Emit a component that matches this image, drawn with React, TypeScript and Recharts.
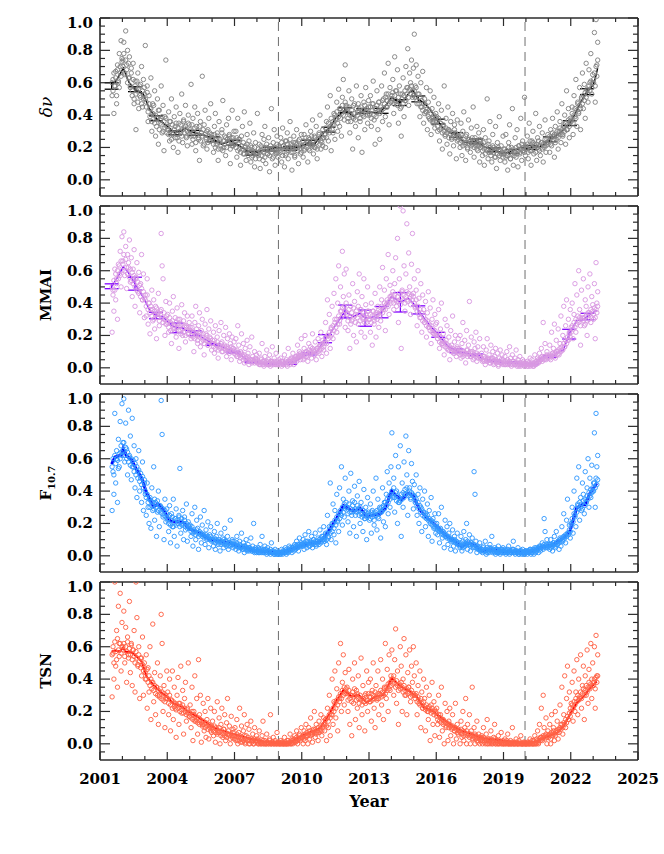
import React from 'react';
import { ComposedChart, Scatter, Line, XAxis, YAxis, ReferenceLine, ErrorBar } from 'recharts';

// x ticks (every year) and y ticks (every 0.05)
const yearTicks = [2001, 2002, 2003, 2004, 2005, 2006, 2007, 2008, 2009, 2010, 2011, 2012, 2013,
  2014, 2015, 2016, 2017, 2018, 2019, 2020, 2021, 2022, 2023, 2024, 2025];
const valueTicks = [-0.05, 0, 0.05, 0.1, 0.15, 0.2, 0.25, 0.3, 0.35, 0.4, 0.45, 0.5, 0.55, 0.6,
  0.65, 0.7, 0.75, 0.8, 0.85, 0.9, 0.95, 1.0];
const minima = [2008.96, 2019.96];

// scatter clouds: one row per calendar year (2001 ... 2023), samples spread over the year
const cloudFirstYear = 2001;
const cloudStart = 2001.52;
const cloudEnd = 2023.22;

const dnuCloud = [
  [0.52, 0.62, 0.41, 0.58, 0.67, 0.47, 0.71, 0.60, 0.78, 0.66, 0.86, 0.73],
  [0.74, 0.85, 0.66, 0.92, 0.71, 0.80, 0.63, 0.76, 0.58, 0.69, 0.52, 0.72, 0.47, 0.61, 0.31, 0.55, 0.66, 0.44, 0.58, 0.51, 0.70, 0.45, 0.62, 0.53],
  [0.83, 0.48, 0.58, 0.36, 0.52, 0.44, 0.63, 0.30, 0.47, 0.40, 0.55, 0.27, 0.38, 0.50, 0.22, 0.43, 0.35, 0.58, 0.29, 0.46, 0.18, 0.39, 0.74, 0.33],
  [0.31, 0.42, 0.24, 0.36, 0.50, 0.28, 0.20, 0.39, 0.33, 0.45, 0.26, 0.17, 0.35, 0.41, 0.29, 0.53, 0.23, 0.37, 0.32, 0.46, 0.27, 0.21, 0.40, 0.34],
  [0.30, 0.59, 0.22, 0.38, 0.27, 0.45, 0.18, 0.33, 0.41, 0.25, 0.12, 0.36, 0.29, 0.64, 0.21, 0.34, 0.43, 0.26, 0.19, 0.31, 0.38, 0.24, 0.47, 0.28],
  [0.25, 0.17, 0.33, 0.41, 0.22, 0.29, 0.12, 0.36, 0.24, 0.19, 0.31, 0.49, 0.20, 0.27, 0.15, 0.34, 0.23, 0.38, 0.28, 0.10, 0.26, 0.43, 0.21, 0.30],
  [0.22, 0.30, 0.14, 0.38, 0.25, 0.19, 0.09, 0.27, 0.33, 0.16, 0.42, 0.21, 0.12, 0.28, 0.18, 0.24, 0.35, 0.11, 0.20, 0.15, 0.29, 0.08, 0.23, 0.17],
  [0.41, 0.15, 0.22, 0.07, 0.18, 0.28, 0.12, 0.25, 0.33, 0.10, 0.20, 0.16, 0.26, 0.05, 0.19, 0.44, 0.13, 0.23, 0.31, 0.09, 0.17, 0.27, 0.14, 0.21],
  [0.18, 0.26, 0.11, 0.32, 0.21, 0.08, 0.15, 0.24, 0.29, 0.13, 0.19, 0.36, 0.22, 0.06, 0.17, 0.27, 0.14, 0.23, 0.31, 0.20, 0.10, 0.25, 0.16, 0.28],
  [0.21, 0.14, 0.28, 0.19, 0.34, 0.24, 0.11, 0.26, 0.18, 0.30, 0.22, 0.37, 0.16, 0.27, 0.20, 0.33, 0.13, 0.25, 0.29, 0.40, 0.19, 0.23, 0.31, 0.26],
  [0.28, 0.20, 0.36, 0.45, 0.24, 0.31, 0.52, 0.18, 0.34, 0.29, 0.41, 0.25, 0.38, 0.48, 0.30, 0.56, 0.33, 0.44, 0.27, 0.51, 0.62, 0.37, 0.71, 0.46],
  [0.45, 0.36, 0.55, 0.29, 0.41, 0.50, 0.19, 0.38, 0.47, 0.33, 0.58, 0.42, 0.26, 0.44, 0.36, 0.52, 0.17, 0.40, 0.48, 0.31, 0.57, 0.43, 0.35, 0.49],
  [0.40, 0.52, 0.33, 0.47, 0.61, 0.37, 0.22, 0.44, 0.55, 0.31, 0.48, 0.25, 0.42, 0.58, 0.36, 0.50, 0.66, 0.39, 0.53, 0.45, 0.72, 0.34, 0.57, 0.48],
  [0.52, 0.62, 0.41, 0.76, 0.55, 0.47, 0.68, 0.35, 0.58, 0.44, 0.27, 0.53, 0.63, 0.39, 0.49, 0.70, 0.57, 0.81, 0.46, 0.66, 0.60, 0.74, 0.51, 0.69],
  [0.90, 0.58, 0.71, 0.47, 0.64, 0.53, 0.39, 0.60, 0.45, 0.67, 0.35, 0.50, 0.42, 0.57, 0.31, 0.48, 0.38, 0.55, 0.28, 0.44, 0.36, 0.51, 0.32, 0.41],
  [0.39, 0.30, 0.47, 0.24, 0.35, 0.43, 0.19, 0.33, 0.58, 0.28, 0.38, 0.22, 0.45, 0.31, 0.16, 0.36, 0.26, 0.41, 0.21, 0.34, 0.29, 0.13, 0.37, 0.25],
  [0.27, 0.20, 0.35, 0.15, 0.30, 0.42, 0.23, 0.12, 0.28, 0.19, 0.37, 0.25, 0.17, 0.32, 0.22, 0.45, 0.14, 0.26, 0.21, 0.33, 0.18, 0.29, 0.11, 0.24],
  [0.22, 0.15, 0.31, 0.09, 0.26, 0.19, 0.50, 0.13, 0.24, 0.36, 0.17, 0.11, 0.28, 0.20, 0.14, 0.33, 0.07, 0.23, 0.18, 0.39, 0.12, 0.21, 0.16, 0.27],
  [0.19, 0.11, 0.28, 0.15, 0.06, 0.23, 0.34, 0.13, 0.20, 0.44, 0.09, 0.17, 0.26, 0.14, 0.31, 0.08, 0.21, 0.16, 0.38, 0.12, 0.24, 0.18, 0.51, 0.15],
  [0.20, 0.27, 0.13, 0.35, 0.18, 0.09, 0.24, 0.30, 0.16, 0.22, 0.41, 0.12, 0.26, 0.19, 0.33, 0.15, 0.23, 0.29, 0.11, 0.21, 0.37, 0.17, 0.25, 0.28],
  [0.24, 0.17, 0.31, 0.21, 0.38, 0.27, 0.14, 0.33, 0.25, 0.42, 0.19, 0.30, 0.36, 0.23, 0.47, 0.28, 0.34, 0.40, 0.22, 0.55, 0.31, 0.44, 0.26, 0.38],
  [0.36, 0.45, 0.28, 0.52, 0.39, 0.62, 0.33, 0.48, 0.42, 0.57, 0.31, 0.51, 0.66, 0.44, 0.59, 0.38, 0.72, 0.55, 0.48, 0.68, 0.60, 0.78, 0.53, 0.65],
  [0.62, 0.91, 0.48, 0.99, 0.71, 0.85],
];
// the densest part of each cloud, close to the running mean
const dnuCore = [
  [0.60, 0.55, 0.66, 0.58, 0.63, 0.52, 0.68, 0.61, 0.57, 0.70, 0.64, 0.75],
  [0.70, 0.78, 0.65, 0.74, 0.68, 0.60, 0.72, 0.63, 0.57, 0.66, 0.55, 0.62, 0.50, 0.58, 0.53, 0.61, 0.48, 0.56, 0.52, 0.59, 0.47, 0.55, 0.50, 0.57],
  [0.50, 0.45, 0.54, 0.42, 0.47, 0.39, 0.44, 0.36, 0.41, 0.46, 0.35, 0.40, 0.33, 0.38, 0.43, 0.31, 0.37, 0.34, 0.39, 0.30, 0.36, 0.32, 0.38, 0.29],
  [0.33, 0.28, 0.36, 0.30, 0.25, 0.34, 0.29, 0.31, 0.26, 0.35, 0.28, 0.32, 0.24, 0.30, 0.34, 0.27, 0.31, 0.36, 0.29, 0.33, 0.26, 0.30, 0.35, 0.28],
  [0.31, 0.27, 0.34, 0.25, 0.29, 0.32, 0.23, 0.28, 0.30, 0.26, 0.33, 0.24, 0.29, 0.27, 0.31, 0.22, 0.28, 0.25, 0.30, 0.23, 0.27, 0.29, 0.24, 0.26],
  [0.26, 0.22, 0.28, 0.20, 0.24, 0.27, 0.19, 0.23, 0.25, 0.21, 0.29, 0.18, 0.24, 0.22, 0.26, 0.20, 0.25, 0.23, 0.27, 0.19, 0.24, 0.21, 0.26, 0.22],
  [0.24, 0.20, 0.26, 0.18, 0.22, 0.25, 0.17, 0.21, 0.19, 0.23, 0.16, 0.20, 0.18, 0.22, 0.15, 0.19, 0.17, 0.21, 0.14, 0.18, 0.16, 0.20, 0.13, 0.17],
  [0.16, 0.19, 0.13, 0.18, 0.21, 0.15, 0.17, 0.20, 0.14, 0.19, 0.22, 0.16, 0.18, 0.15, 0.21, 0.17, 0.19, 0.14, 0.20, 0.18, 0.16, 0.22, 0.17, 0.19],
  [0.20, 0.17, 0.23, 0.15, 0.21, 0.19, 0.24, 0.16, 0.22, 0.18, 0.20, 0.25, 0.17, 0.21, 0.19, 0.23, 0.15, 0.20, 0.22, 0.18, 0.24, 0.19, 0.21, 0.17],
  [0.21, 0.24, 0.18, 0.22, 0.26, 0.20, 0.23, 0.19, 0.25, 0.22, 0.27, 0.21, 0.24, 0.20, 0.26, 0.23, 0.19, 0.25, 0.28, 0.22, 0.24, 0.27, 0.21, 0.26],
  [0.28, 0.32, 0.26, 0.30, 0.35, 0.29, 0.33, 0.38, 0.31, 0.36, 0.34, 0.40, 0.37, 0.42, 0.35, 0.39, 0.44, 0.38, 0.41, 0.46, 0.40, 0.43, 0.48, 0.42],
  [0.42, 0.38, 0.45, 0.40, 0.36, 0.43, 0.39, 0.46, 0.41, 0.37, 0.44, 0.40, 0.47, 0.42, 0.38, 0.45, 0.41, 0.43, 0.39, 0.46, 0.42, 0.44, 0.40, 0.45],
  [0.41, 0.45, 0.38, 0.43, 0.47, 0.40, 0.44, 0.39, 0.46, 0.42, 0.48, 0.41, 0.45, 0.43, 0.49, 0.44, 0.47, 0.51, 0.45, 0.49, 0.53, 0.47, 0.50, 0.48],
  [0.50, 0.54, 0.47, 0.52, 0.49, 0.55, 0.46, 0.51, 0.48, 0.53, 0.45, 0.50, 0.47, 0.52, 0.55, 0.49, 0.53, 0.57, 0.51, 0.56, 0.53, 0.58, 0.55, 0.52],
  [0.55, 0.51, 0.57, 0.49, 0.53, 0.47, 0.51, 0.45, 0.49, 0.43, 0.47, 0.41, 0.46, 0.42, 0.44, 0.39, 0.43, 0.37, 0.41, 0.38, 0.35, 0.40, 0.36, 0.38],
  [0.36, 0.33, 0.38, 0.31, 0.35, 0.32, 0.29, 0.34, 0.30, 0.27, 0.32, 0.29, 0.31, 0.26, 0.30, 0.28, 0.25, 0.29, 0.27, 0.31, 0.26, 0.28, 0.24, 0.27],
  [0.26, 0.23, 0.28, 0.24, 0.21, 0.25, 0.22, 0.27, 0.23, 0.20, 0.25, 0.22, 0.24, 0.21, 0.26, 0.23, 0.20, 0.24, 0.22, 0.19, 0.23, 0.21, 0.25, 0.20],
  [0.21, 0.18, 0.23, 0.19, 0.16, 0.21, 0.18, 0.22, 0.17, 0.20, 0.15, 0.19, 0.21, 0.17, 0.18, 0.14, 0.19, 0.16, 0.20, 0.15, 0.18, 0.16, 0.17, 0.14],
  [0.16, 0.19, 0.14, 0.18, 0.15, 0.20, 0.17, 0.13, 0.18, 0.16, 0.19, 0.15, 0.17, 0.20, 0.16, 0.18, 0.21, 0.17, 0.19, 0.22, 0.18, 0.20, 0.17, 0.21],
  [0.19, 0.22, 0.17, 0.21, 0.24, 0.18, 0.20, 0.23, 0.19, 0.21, 0.17, 0.22, 0.20, 0.24, 0.18, 0.21, 0.23, 0.19, 0.22, 0.20, 0.25, 0.21, 0.23, 0.22],
  [0.24, 0.27, 0.22, 0.26, 0.29, 0.25, 0.28, 0.23, 0.27, 0.30, 0.26, 0.29, 0.32, 0.28, 0.31, 0.27, 0.33, 0.30, 0.35, 0.31, 0.34, 0.37, 0.33, 0.36],
  [0.37, 0.41, 0.35, 0.40, 0.44, 0.38, 0.43, 0.47, 0.41, 0.46, 0.44, 0.50, 0.47, 0.52, 0.49, 0.54, 0.51, 0.56, 0.53, 0.58, 0.55, 0.61, 0.57, 0.60],
  [0.60, 0.66, 0.58, 0.70, 0.64, 0.74],
];

const mmaiCloud = [
  [0.22, 0.48, 0.35, 0.61, 0.42, 0.55, 0.30, 0.64, 0.58, 0.72, 0.50, 0.81],
  [0.66, 0.84, 0.57, 0.75, 0.49, 0.70, 0.62, 0.79, 0.53, 0.68, 0.44, 0.61, 0.73, 0.38, 0.56, 0.65, 0.47, 0.59, 0.34, 0.52, 0.70, 0.42, 0.58, 0.31],
  [0.45, 0.32, 0.55, 0.27, 0.40, 0.21, 0.36, 0.48, 0.29, 0.42, 0.24, 0.38, 0.18, 0.33, 0.46, 0.26, 0.35, 0.83, 0.63, 0.55, 0.30, 0.20, 0.41, 0.27],
  [0.33, 0.22, 0.40, 0.28, 0.15, 0.35, 0.44, 0.25, 0.31, 0.19, 0.37, 0.27, 0.12, 0.30, 0.23, 0.39, 0.20, 0.29, 0.34, 0.16, 0.26, 0.32, 0.21, 0.28],
  [0.25, 0.18, 0.32, 0.22, 0.10, 0.28, 0.38, 0.20, 0.15, 0.26, 0.34, 0.13, 0.23, 0.30, 0.17, 0.08, 0.27, 0.21, 0.36, 0.14, 0.24, 0.19, 0.29, 0.11],
  [0.17, 0.22, 0.09, 0.26, 0.14, 0.19, 0.06, 0.23, 0.12, 0.28, 0.16, 0.10, 0.20, 0.13, 0.25, 0.07, 0.18, 0.11, 0.21, 0.15, 0.05, 0.19, 0.12, 0.16],
  [0.11, 0.18, 0.07, 0.26, 0.14, 0.04, 0.10, 0.21, 0.08, 0.15, 0.03, 0.12, 0.06, 0.17, 0.09, 0.02, 0.13, 0.05, 0.19, 0.07, 0.04, 0.10, 0.06, 0.08],
  [0.05, 0.03, 0.09, 0.02, 0.06, 0.15, 0.04, 0.01, 0.07, 0.03, 0.11, 0.02, 0.05, 0.08, 0.01, 0.04, 0.13, 0.03, 0.06, 0.02, 0.09, 0.04, 0.02, 0.05],
  [0.03, 0.06, 0.01, 0.04, 0.02, 0.08, 0.03, 0.05, 0.01, 0.12, 0.04, 0.02, 0.06, 0.03, 0.09, 0.02, 0.05, 0.07, 0.04, 0.14, 0.06, 0.10, 0.05, 0.18],
  [0.08, 0.05, 0.12, 0.20, 0.07, 0.10, 0.04, 0.15, 0.09, 0.13, 0.06, 0.21, 0.11, 0.08, 0.16, 0.05, 0.12, 0.18, 0.09, 0.14, 0.22, 0.07, 0.17, 0.11],
  [0.15, 0.28, 0.09, 0.42, 0.20, 0.33, 0.12, 0.25, 0.38, 0.18, 0.46, 0.30, 0.55, 0.22, 0.40, 0.63, 0.27, 0.50, 0.35, 0.72, 0.44, 0.58, 0.25, 0.61],
  [0.34, 0.23, 0.45, 0.12, 0.38, 0.29, 0.52, 0.20, 0.41, 0.33, 0.16, 0.47, 0.27, 0.58, 0.36, 0.22, 0.44, 0.31, 0.55, 0.19, 0.39, 0.28, 0.50, 0.35],
  [0.30, 0.22, 0.40, 0.14, 0.35, 0.27, 0.46, 0.19, 0.33, 0.38, 0.25, 0.50, 0.29, 0.42, 0.62, 0.36, 0.48, 0.23, 0.55, 0.40, 0.70, 0.33, 0.51, 0.44],
  [0.45, 0.60, 0.36, 0.52, 0.68, 0.41, 0.80, 0.28, 0.55, 1.00, 0.12, 0.47, 0.97, 0.63, 0.35, 0.58, 0.89, 0.42, 0.71, 0.50, 0.33, 0.64, 0.83, 0.46],
  [0.55, 0.38, 0.48, 0.26, 0.60, 0.43, 0.31, 0.52, 0.22, 0.45, 0.36, 0.28, 0.41, 0.19, 0.34, 0.47, 0.25, 0.37, 0.15, 0.30, 0.42, 0.21, 0.33, 0.27],
  [0.28, 0.18, 0.36, 0.12, 0.24, 0.40, 0.15, 0.21, 0.08, 0.30, 0.17, 0.26, 0.11, 0.19, 0.05, 0.23, 0.14, 0.32, 0.09, 0.16, 0.20, 0.07, 0.13, 0.18],
  [0.12, 0.20, 0.06, 0.15, 0.28, 0.09, 0.17, 0.03, 0.23, 0.11, 0.14, 0.41, 0.07, 0.19, 0.10, 0.05, 0.16, 0.12, 0.22, 0.04, 0.13, 0.08, 0.18, 0.06],
  [0.09, 0.04, 0.13, 0.07, 0.02, 0.11, 0.18, 0.05, 0.08, 0.03, 0.14, 0.06, 0.10, 0.02, 0.07, 0.12, 0.04, 0.09, 0.01, 0.06, 0.11, 0.03, 0.08, 0.05],
  [0.04, 0.07, 0.02, 0.10, 0.05, 0.03, 0.13, 0.06, 0.01, 0.08, 0.04, 0.02, 0.06, 0.11, 0.03, 0.05, 0.01, 0.07, 0.03, 0.02, 0.05, 0.04, 0.01, 0.03],
  [0.02, 0.04, 0.01, 0.03, 0.06, 0.02, 0.05, 0.01, 0.03, 0.08, 0.02, 0.04, 0.06, 0.03, 0.09, 0.05, 0.12, 0.04, 0.28, 0.07, 0.15, 0.05, 0.10, 0.06],
  [0.07, 0.14, 0.05, 0.22, 0.09, 0.12, 0.27, 0.06, 0.17, 0.10, 0.24, 0.08, 0.15, 0.32, 0.11, 0.20, 0.38, 0.13, 0.26, 0.42, 0.17, 0.30, 0.22, 0.36],
  [0.25, 0.40, 0.18, 0.33, 0.52, 0.22, 0.45, 0.29, 0.60, 0.36, 0.14, 0.48, 0.31, 0.55, 0.26, 0.42, 0.38, 0.20, 0.50, 0.34, 0.58, 0.28, 0.44, 0.39],
  [0.30, 0.52, 0.18, 0.65, 0.40, 0.47],
];
const mmaiCore = [
  [0.50, 0.45, 0.54, 0.48, 0.58, 0.52, 0.60, 0.55, 0.63, 0.57, 0.66, 0.60],
  [0.64, 0.70, 0.60, 0.67, 0.62, 0.58, 0.65, 0.56, 0.61, 0.54, 0.59, 0.52, 0.57, 0.50, 0.55, 0.48, 0.53, 0.46, 0.51, 0.44, 0.49, 0.42, 0.47, 0.43],
  [0.42, 0.38, 0.45, 0.36, 0.40, 0.34, 0.38, 0.32, 0.36, 0.30, 0.35, 0.33, 0.37, 0.31, 0.34, 0.29, 0.33, 0.36, 0.31, 0.28, 0.34, 0.30, 0.27, 0.32],
  [0.28, 0.25, 0.31, 0.23, 0.27, 0.29, 0.24, 0.26, 0.22, 0.28, 0.25, 0.30, 0.23, 0.26, 0.21, 0.27, 0.24, 0.22, 0.26, 0.20, 0.25, 0.23, 0.21, 0.24],
  [0.23, 0.20, 0.25, 0.19, 0.22, 0.18, 0.21, 0.24, 0.17, 0.20, 0.19, 0.22, 0.16, 0.19, 0.21, 0.15, 0.18, 0.17, 0.20, 0.14, 0.17, 0.16, 0.18, 0.15],
  [0.15, 0.13, 0.17, 0.12, 0.14, 0.16, 0.11, 0.14, 0.13, 0.15, 0.10, 0.13, 0.12, 0.14, 0.11, 0.13, 0.10, 0.12, 0.09, 0.11, 0.13, 0.10, 0.12, 0.09],
  [0.10, 0.08, 0.11, 0.07, 0.09, 0.08, 0.06, 0.09, 0.07, 0.05, 0.08, 0.06, 0.04, 0.07, 0.05, 0.06, 0.04, 0.05, 0.03, 0.05, 0.04, 0.03, 0.05, 0.04],
  [0.03, 0.04, 0.02, 0.03, 0.05, 0.03, 0.02, 0.04, 0.03, 0.02, 0.04, 0.03, 0.02, 0.03, 0.04, 0.02, 0.03, 0.02, 0.04, 0.03, 0.02, 0.03, 0.02, 0.03],
  [0.03, 0.02, 0.04, 0.03, 0.02, 0.03, 0.04, 0.02, 0.03, 0.04, 0.03, 0.05, 0.04, 0.06, 0.05, 0.04, 0.06, 0.05, 0.07, 0.06, 0.08, 0.07, 0.09, 0.08],
  [0.07, 0.09, 0.06, 0.08, 0.10, 0.07, 0.09, 0.11, 0.08, 0.10, 0.09, 0.12, 0.10, 0.08, 0.11, 0.09, 0.12, 0.10, 0.13, 0.11, 0.14, 0.12, 0.15, 0.13],
  [0.16, 0.19, 0.15, 0.20, 0.18, 0.22, 0.19, 0.24, 0.21, 0.26, 0.23, 0.28, 0.25, 0.30, 0.27, 0.32, 0.29, 0.35, 0.31, 0.37, 0.33, 0.38, 0.35, 0.40],
  [0.33, 0.29, 0.36, 0.31, 0.27, 0.34, 0.30, 0.37, 0.32, 0.28, 0.35, 0.31, 0.38, 0.33, 0.29, 0.36, 0.32, 0.30, 0.34, 0.28, 0.33, 0.31, 0.35, 0.30],
  [0.30, 0.33, 0.28, 0.32, 0.35, 0.29, 0.31, 0.34, 0.30, 0.33, 0.36, 0.32, 0.35, 0.38, 0.34, 0.37, 0.40, 0.36, 0.39, 0.42, 0.38, 0.41, 0.44, 0.40],
  [0.43, 0.47, 0.40, 0.45, 0.42, 0.38, 0.44, 0.41, 0.46, 0.39, 0.43, 0.48, 0.42, 0.45, 0.40, 0.44, 0.47, 0.41, 0.46, 0.43, 0.39, 0.45, 0.42, 0.44],
  [0.40, 0.37, 0.42, 0.35, 0.38, 0.33, 0.36, 0.31, 0.34, 0.29, 0.32, 0.28, 0.30, 0.26, 0.29, 0.25, 0.27, 0.23, 0.26, 0.22, 0.24, 0.21, 0.23, 0.20],
  [0.21, 0.18, 0.20, 0.16, 0.19, 0.15, 0.17, 0.14, 0.16, 0.13, 0.15, 0.12, 0.14, 0.11, 0.13, 0.12, 0.10, 0.12, 0.11, 0.09, 0.11, 0.10, 0.12, 0.09],
  [0.10, 0.08, 0.11, 0.09, 0.07, 0.10, 0.08, 0.09, 0.11, 0.07, 0.09, 0.08, 0.10, 0.07, 0.09, 0.08, 0.06, 0.08, 0.07, 0.09, 0.06, 0.08, 0.07, 0.06],
  [0.06, 0.05, 0.07, 0.04, 0.06, 0.05, 0.04, 0.06, 0.05, 0.03, 0.05, 0.04, 0.06, 0.03, 0.04, 0.05, 0.03, 0.04, 0.02, 0.04, 0.03, 0.05, 0.03, 0.02],
  [0.03, 0.02, 0.04, 0.03, 0.02, 0.03, 0.04, 0.02, 0.03, 0.02, 0.04, 0.03, 0.02, 0.03, 0.01, 0.02, 0.03, 0.02, 0.01, 0.02, 0.03, 0.02, 0.01, 0.02],
  [0.02, 0.01, 0.03, 0.02, 0.01, 0.02, 0.03, 0.02, 0.01, 0.03, 0.02, 0.04, 0.03, 0.05, 0.04, 0.06, 0.05, 0.07, 0.06, 0.05, 0.07, 0.06, 0.08, 0.07],
  [0.07, 0.06, 0.08, 0.07, 0.09, 0.08, 0.07, 0.09, 0.10, 0.08, 0.11, 0.09, 0.12, 0.10, 0.13, 0.11, 0.15, 0.13, 0.17, 0.15, 0.19, 0.17, 0.21, 0.19],
  [0.22, 0.26, 0.24, 0.28, 0.25, 0.30, 0.27, 0.32, 0.28, 0.31, 0.26, 0.30, 0.33, 0.29, 0.31, 0.27, 0.32, 0.29, 0.34, 0.30, 0.33, 0.36, 0.31, 0.35],
  [0.33, 0.37, 0.31, 0.36, 0.34, 0.38],
];

const f107Cloud = [
  [0.28, 0.52, 0.38, 0.88, 0.45, 0.60, 0.33, 0.72, 0.55, 0.83, 0.64, 0.94],
  [0.70, 0.97, 0.58, 0.82, 0.66, 0.50, 0.90, 0.61, 0.74, 0.47, 0.85, 0.55, 0.68, 0.42, 0.60, 0.36, 0.52, 0.65, 0.40, 0.48, 0.33, 0.58, 0.28, 0.45],
  [0.38, 0.25, 0.45, 0.30, 0.20, 0.36, 0.17, 0.42, 0.28, 0.55, 0.22, 0.33, 0.12, 0.27, 0.40, 0.18, 0.31, 0.96, 0.75, 0.24, 0.10, 0.35, 0.21, 0.29],
  [0.22, 0.15, 0.31, 0.08, 0.26, 0.18, 0.35, 0.12, 0.23, 0.29, 0.06, 0.20, 0.25, 0.54, 0.14, 0.19, 0.28, 0.10, 0.24, 0.16, 0.32, 0.09, 0.21, 0.17],
  [0.19, 0.12, 0.26, 0.06, 0.15, 0.30, 0.10, 0.22, 0.17, 0.04, 0.14, 0.24, 0.08, 0.19, 0.13, 0.28, 0.07, 0.16, 0.11, 0.21, 0.05, 0.13, 0.18, 0.09],
  [0.10, 0.06, 0.15, 0.04, 0.12, 0.20, 0.07, 0.09, 0.03, 0.14, 0.08, 0.11, 0.05, 0.17, 0.09, 0.06, 0.12, 0.04, 0.08, 0.22, 0.07, 0.10, 0.05, 0.09],
  [0.07, 0.04, 0.12, 0.06, 0.03, 0.09, 0.05, 0.14, 0.04, 0.08, 0.02, 0.06, 0.10, 0.03, 0.07, 0.05, 0.04, 0.11, 0.03, 0.06, 0.20, 0.02, 0.05, 0.04],
  [0.03, 0.05, 0.02, 0.07, 0.04, 0.12, 0.03, 0.02, 0.06, 0.04, 0.01, 0.05, 0.03, 0.02, 0.04, 0.08, 0.02, 0.03, 0.01, 0.04, 0.02, 0.03, 0.01, 0.02],
  [0.01, 0.02, 0.04, 0.01, 0.03, 0.02, 0.05, 0.01, 0.03, 0.02, 0.06, 0.03, 0.04, 0.02, 0.05, 0.03, 0.07, 0.04, 0.09, 0.05, 0.03, 0.11, 0.06, 0.08],
  [0.06, 0.10, 0.04, 0.13, 0.07, 0.05, 0.09, 0.15, 0.06, 0.08, 0.12, 0.05, 0.10, 0.07, 0.14, 0.06, 0.09, 0.11, 0.07, 0.16, 0.08, 0.12, 0.10, 0.18],
  [0.09, 0.14, 0.07, 0.25, 0.11, 0.18, 0.45, 0.10, 0.20, 0.32, 0.13, 0.28, 0.08, 0.38, 0.22, 0.15, 0.42, 0.26, 0.55, 0.19, 0.35, 0.24, 0.48, 0.30],
  [0.30, 0.21, 0.40, 0.14, 0.51, 0.27, 0.34, 0.18, 0.43, 0.25, 0.12, 0.37, 0.29, 0.46, 0.20, 0.33, 0.26, 0.15, 0.41, 0.23, 0.30, 0.10, 0.36, 0.27],
  [0.22, 0.32, 0.14, 0.28, 0.40, 0.19, 0.25, 0.48, 0.16, 0.35, 0.23, 0.30, 0.11, 0.27, 0.42, 0.21, 0.33, 0.18, 0.38, 0.52, 0.26, 0.45, 0.30, 0.55],
  [0.76, 0.36, 0.48, 0.27, 0.62, 0.40, 0.20, 0.55, 0.33, 0.68, 0.12, 0.45, 0.30, 0.58, 0.38, 0.74, 0.50, 0.25, 0.65, 0.42, 0.35, 0.57, 0.46, 0.29],
  [0.44, 0.33, 0.50, 0.25, 0.38, 0.20, 0.42, 0.30, 0.15, 0.35, 0.27, 0.40, 0.18, 0.24, 0.32, 0.12, 0.28, 0.21, 0.36, 0.09, 0.23, 0.17, 0.26, 0.14],
  [0.20, 0.13, 0.26, 0.08, 0.17, 0.30, 0.11, 0.15, 0.05, 0.22, 0.12, 0.18, 0.07, 0.14, 0.20, 0.04, 0.10, 0.16, 0.06, 0.12, 0.03, 0.09, 0.14, 0.07],
  [0.08, 0.05, 0.12, 0.03, 0.09, 0.15, 0.06, 0.10, 0.20, 0.04, 0.07, 0.13, 0.03, 0.08, 0.11, 0.05, 0.52, 0.38, 0.09, 0.02, 0.06, 0.04, 0.08, 0.03],
  [0.04, 0.02, 0.06, 0.03, 0.09, 0.01, 0.05, 0.03, 0.02, 0.07, 0.04, 0.12, 0.02, 0.03, 0.05, 0.01, 0.04, 0.02, 0.06, 0.03, 0.01, 0.04, 0.02, 0.05],
  [0.02, 0.04, 0.01, 0.03, 0.02, 0.06, 0.01, 0.03, 0.02, 0.04, 0.09, 0.02, 0.01, 0.03, 0.02, 0.05, 0.01, 0.02, 0.03, 0.01, 0.04, 0.02, 0.01, 0.03],
  [0.02, 0.01, 0.03, 0.02, 0.04, 0.01, 0.02, 0.03, 0.01, 0.05, 0.02, 0.03, 0.04, 0.02, 0.06, 0.03, 0.05, 0.08, 0.04, 0.23, 0.15, 0.06, 0.10, 0.05],
  [0.07, 0.04, 0.10, 0.06, 0.03, 0.08, 0.12, 0.05, 0.15, 0.07, 0.09, 0.04, 0.11, 0.06, 0.18, 0.09, 0.26, 0.12, 0.08, 0.22, 0.35, 0.14, 0.19, 0.11],
  [0.20, 0.30, 0.14, 0.40, 0.25, 0.18, 0.48, 0.32, 0.55, 0.22, 0.36, 0.28, 0.45, 0.38, 0.26, 0.52, 0.33, 0.42, 0.60, 0.30, 0.48, 0.36, 0.56, 0.40],
  [0.45, 0.76, 0.30, 0.88, 0.55, 0.62],
];
const f107Core = [
  [0.55, 0.60, 0.50, 0.62, 0.57, 0.65, 0.59, 0.54, 0.63, 0.60, 0.68, 0.62],
  [0.65, 0.70, 0.62, 0.67, 0.60, 0.64, 0.58, 0.62, 0.56, 0.60, 0.55, 0.59, 0.52, 0.57, 0.50, 0.55, 0.48, 0.53, 0.46, 0.51, 0.44, 0.49, 0.42, 0.47],
  [0.40, 0.36, 0.38, 0.33, 0.35, 0.30, 0.34, 0.31, 0.33, 0.29, 0.35, 0.32, 0.30, 0.34, 0.28, 0.31, 0.27, 0.30, 0.26, 0.29, 0.25, 0.28, 0.24, 0.26],
  [0.23, 0.20, 0.25, 0.19, 0.22, 0.24, 0.18, 0.21, 0.23, 0.19, 0.22, 0.20, 0.24, 0.18, 0.21, 0.23, 0.19, 0.20, 0.22, 0.18, 0.20, 0.17, 0.19, 0.18],
  [0.17, 0.15, 0.18, 0.14, 0.16, 0.15, 0.13, 0.16, 0.14, 0.12, 0.15, 0.13, 0.14, 0.12, 0.13, 0.11, 0.12, 0.13, 0.10, 0.12, 0.11, 0.10, 0.12, 0.10],
  [0.10, 0.09, 0.11, 0.08, 0.10, 0.09, 0.08, 0.10, 0.09, 0.07, 0.09, 0.08, 0.10, 0.07, 0.08, 0.09, 0.07, 0.08, 0.06, 0.08, 0.07, 0.09, 0.07, 0.06],
  [0.07, 0.06, 0.08, 0.06, 0.05, 0.07, 0.06, 0.05, 0.06, 0.04, 0.06, 0.05, 0.04, 0.05, 0.04, 0.03, 0.05, 0.04, 0.03, 0.04, 0.03, 0.04, 0.03, 0.02],
  [0.03, 0.02, 0.04, 0.03, 0.02, 0.03, 0.02, 0.04, 0.03, 0.02, 0.03, 0.02, 0.03, 0.02, 0.01, 0.02, 0.03, 0.02, 0.01, 0.02, 0.01, 0.02, 0.01, 0.02],
  [0.02, 0.01, 0.02, 0.03, 0.02, 0.03, 0.02, 0.04, 0.03, 0.04, 0.03, 0.05, 0.04, 0.05, 0.04, 0.06, 0.05, 0.06, 0.05, 0.07, 0.06, 0.07, 0.06, 0.07],
  [0.07, 0.06, 0.08, 0.07, 0.09, 0.07, 0.08, 0.06, 0.08, 0.09, 0.07, 0.08, 0.10, 0.08, 0.09, 0.07, 0.09, 0.08, 0.10, 0.09, 0.11, 0.09, 0.12, 0.10],
  [0.11, 0.13, 0.10, 0.14, 0.12, 0.16, 0.14, 0.18, 0.15, 0.20, 0.17, 0.22, 0.19, 0.24, 0.21, 0.26, 0.23, 0.28, 0.25, 0.30, 0.27, 0.32, 0.29, 0.33],
  [0.30, 0.26, 0.32, 0.27, 0.29, 0.25, 0.31, 0.28, 0.33, 0.29, 0.27, 0.31, 0.28, 0.25, 0.30, 0.26, 0.24, 0.28, 0.25, 0.23, 0.27, 0.24, 0.26, 0.25],
  [0.25, 0.23, 0.27, 0.24, 0.26, 0.22, 0.27, 0.25, 0.28, 0.24, 0.26, 0.29, 0.27, 0.30, 0.28, 0.31, 0.29, 0.33, 0.31, 0.35, 0.33, 0.37, 0.35, 0.38],
  [0.40, 0.37, 0.42, 0.36, 0.39, 0.34, 0.37, 0.33, 0.36, 0.34, 0.38, 0.35, 0.39, 0.36, 0.41, 0.38, 0.42, 0.39, 0.37, 0.40, 0.36, 0.39, 0.38, 0.37],
  [0.37, 0.34, 0.35, 0.31, 0.33, 0.29, 0.31, 0.27, 0.29, 0.25, 0.27, 0.24, 0.26, 0.23, 0.25, 0.22, 0.23, 0.20, 0.22, 0.19, 0.21, 0.18, 0.20, 0.17],
  [0.18, 0.16, 0.17, 0.15, 0.16, 0.14, 0.15, 0.13, 0.14, 0.12, 0.13, 0.11, 0.12, 0.11, 0.10, 0.11, 0.09, 0.10, 0.09, 0.10, 0.08, 0.09, 0.08, 0.07],
  [0.07, 0.06, 0.08, 0.06, 0.05, 0.07, 0.06, 0.08, 0.07, 0.09, 0.08, 0.07, 0.06, 0.08, 0.07, 0.06, 0.07, 0.05, 0.06, 0.05, 0.04, 0.05, 0.04, 0.03],
  [0.04, 0.03, 0.05, 0.03, 0.04, 0.03, 0.02, 0.04, 0.03, 0.05, 0.04, 0.03, 0.04, 0.03, 0.02, 0.04, 0.03, 0.04, 0.02, 0.03, 0.02, 0.03, 0.04, 0.03],
  [0.03, 0.02, 0.03, 0.02, 0.04, 0.03, 0.02, 0.03, 0.02, 0.03, 0.04, 0.02, 0.03, 0.02, 0.03, 0.02, 0.01, 0.03, 0.02, 0.03, 0.02, 0.01, 0.02, 0.03],
  [0.02, 0.03, 0.02, 0.03, 0.04, 0.03, 0.02, 0.04, 0.03, 0.04, 0.03, 0.05, 0.04, 0.05, 0.04, 0.06, 0.05, 0.06, 0.05, 0.07, 0.06, 0.05, 0.07, 0.06],
  [0.06, 0.07, 0.05, 0.07, 0.06, 0.08, 0.07, 0.06, 0.08, 0.07, 0.09, 0.08, 0.10, 0.09, 0.11, 0.10, 0.12, 0.11, 0.13, 0.12, 0.14, 0.13, 0.16, 0.15],
  [0.19, 0.23, 0.21, 0.26, 0.24, 0.29, 0.27, 0.31, 0.29, 0.33, 0.30, 0.32, 0.29, 0.34, 0.31, 0.35, 0.33, 0.37, 0.35, 0.39, 0.37, 0.41, 0.39, 0.42],
  [0.40, 0.45, 0.42, 0.48, 0.44, 0.47],
];

const tsnCloud = [
  [0.29, 0.56, 0.40, 1.00, 0.48, 0.70, 0.35, 0.85, 0.62, 0.93, 0.45, 0.75],
  [0.60, 0.82, 0.50, 0.72, 0.38, 0.66, 0.55, 0.88, 0.44, 0.62, 0.36, 0.58, 0.70, 0.32, 1.00, 0.78, 0.48, 0.60, 0.28, 0.53, 0.42, 0.66, 0.30, 0.47],
  [0.40, 0.55, 0.22, 0.47, 0.32, 0.60, 0.15, 0.38, 0.74, 0.26, 0.44, 0.18, 0.35, 0.50, 0.12, 0.30, 0.42, 0.80, 0.62, 0.20, 0.36, 0.10, 0.28, 0.45],
  [0.32, 0.18, 0.40, 0.08, 0.27, 0.45, 0.15, 0.35, 0.22, 0.04, 0.30, 0.41, 0.12, 0.25, 0.48, 0.19, 0.33, 0.06, 0.28, 0.38, 0.14, 0.22, 0.50, 0.17],
  [0.24, 0.10, 0.35, 0.02, 0.20, 0.42, 0.14, 0.28, 0.06, 0.52, 0.18, 0.30, 0.01, 0.12, 0.25, 0.08, 0.20, 0.04, 0.15, 0.28, 0.03, 0.11, 0.22, 0.07],
  [0.14, 0.05, 0.20, 0.01, 0.10, 0.26, 0.07, 0.16, 0.00, 0.12, 0.22, 0.04, 0.09, 0.18, 0.02, 0.13, 0.28, 0.06, 0.11, 0.00, 0.17, 0.05, 0.09, 0.03],
  [0.10, 0.02, 0.15, 0.00, 0.07, 0.22, 0.04, 0.11, 0.01, 0.08, 0.18, 0.00, 0.05, 0.12, 0.02, 0.09, 0.00, 0.14, 0.03, 0.06, 0.00, 0.10, 0.02, 0.05],
  [0.03, 0.00, 0.08, 0.01, 0.00, 0.05, 0.14, 0.00, 0.02, 0.00, 0.06, 0.01, 0.00, 0.03, 0.18, 0.00, 0.01, 0.04, 0.00, 0.02, 0.00, 0.07, 0.00, 0.01],
  [0.00, 0.02, 0.00, 0.01, 0.00, 0.04, 0.00, 0.00, 0.02, 0.00, 0.01, 0.06, 0.00, 0.03, 0.00, 0.02, 0.05, 0.01, 0.08, 0.00, 0.03, 0.06, 0.02, 0.10],
  [0.04, 0.00, 0.08, 0.02, 0.12, 0.05, 0.00, 0.10, 0.03, 0.16, 0.06, 0.01, 0.09, 0.20, 0.04, 0.12, 0.07, 0.02, 0.14, 0.08, 0.18, 0.05, 0.11, 0.16],
  [0.08, 0.15, 0.02, 0.22, 0.10, 0.30, 0.05, 0.18, 0.40, 0.12, 0.26, 0.45, 0.16, 0.34, 0.08, 0.50, 0.28, 0.62, 0.20, 0.38, 0.55, 0.24, 0.44, 0.32],
  [0.35, 0.20, 0.46, 0.12, 0.30, 0.05, 0.40, 0.25, 0.50, 0.15, 0.33, 0.22, 0.42, 0.10, 0.28, 0.53, 0.18, 0.36, 0.26, 0.08, 0.31, 0.45, 0.20, 0.38],
  [0.26, 0.40, 0.14, 0.33, 0.50, 0.22, 0.10, 0.36, 0.28, 0.45, 0.18, 0.31, 0.52, 0.24, 0.40, 0.15, 0.35, 0.62, 0.28, 0.46, 0.20, 0.55, 0.33, 0.42],
  [0.58, 0.40, 0.30, 0.52, 0.71, 0.25, 0.45, 0.12, 0.36, 0.60, 0.48, 0.20, 0.40, 0.65, 0.30, 0.55, 0.18, 0.44, 0.35, 0.58, 0.26, 0.48, 0.38, 0.60],
  [0.42, 0.30, 0.50, 0.18, 0.36, 0.25, 0.45, 0.10, 0.32, 0.22, 0.40, 0.28, 0.08, 0.35, 0.20, 0.15, 0.30, 0.02, 0.24, 0.38, 0.12, 0.26, 0.05, 0.20],
  [0.22, 0.12, 0.30, 0.04, 0.18, 0.35, 0.08, 0.15, 0.00, 0.25, 0.10, 0.20, 0.02, 0.14, 0.22, 0.05, 0.10, 0.18, 0.00, 0.08, 0.25, 0.03, 0.12, 0.06],
  [0.08, 0.00, 0.14, 0.04, 0.20, 0.02, 0.10, 0.28, 0.00, 0.12, 0.06, 0.18, 0.00, 0.08, 0.35, 0.03, 0.10, 0.00, 0.05, 0.14, 0.01, 0.06, 0.00, 0.04],
  [0.05, 0.00, 0.10, 0.02, 0.00, 0.06, 0.15, 0.00, 0.03, 0.00, 0.08, 0.01, 0.00, 0.04, 0.12, 0.00, 0.02, 0.00, 0.05, 0.00, 0.01, 0.07, 0.00, 0.02],
  [0.00, 0.03, 0.00, 0.01, 0.06, 0.00, 0.00, 0.02, 0.00, 0.10, 0.00, 0.01, 0.00, 0.03, 0.00, 0.00, 0.02, 0.00, 0.05, 0.00, 0.00, 0.01, 0.00, 0.00],
  [0.00, 0.01, 0.00, 0.00, 0.03, 0.00, 0.02, 0.00, 0.00, 0.05, 0.00, 0.03, 0.08, 0.00, 0.12, 0.04, 0.22, 0.02, 0.30, 0.10, 0.05, 0.16, 0.00, 0.08],
  [0.05, 0.12, 0.00, 0.18, 0.06, 0.10, 0.02, 0.20, 0.08, 0.14, 0.03, 0.09, 0.24, 0.12, 0.35, 0.06, 0.18, 0.42, 0.10, 0.28, 0.48, 0.15, 0.32, 0.22],
  [0.25, 0.38, 0.14, 0.45, 0.20, 0.32, 0.52, 0.18, 0.40, 0.28, 0.55, 0.22, 0.36, 0.48, 0.15, 0.42, 0.30, 0.58, 0.25, 0.46, 0.35, 0.62, 0.28, 0.50],
  [0.38, 0.60, 0.22, 0.67, 0.42, 0.55],
];
const tsnCore = [
  [0.55, 0.60, 0.50, 0.63, 0.57, 0.52, 0.65, 0.58, 0.54, 0.62, 0.56, 0.60],
  [0.58, 0.62, 0.54, 0.60, 0.57, 0.63, 0.53, 0.59, 0.55, 0.61, 0.52, 0.58, 0.54, 0.50, 0.57, 0.53, 0.49, 0.55, 0.51, 0.47, 0.53, 0.49, 0.45, 0.50],
  [0.44, 0.40, 0.46, 0.38, 0.42, 0.36, 0.40, 0.34, 0.38, 0.33, 0.36, 0.31, 0.35, 0.30, 0.33, 0.29, 0.34, 0.28, 0.32, 0.27, 0.31, 0.26, 0.30, 0.28],
  [0.28, 0.25, 0.30, 0.24, 0.27, 0.22, 0.26, 0.23, 0.25, 0.21, 0.24, 0.22, 0.25, 0.20, 0.23, 0.21, 0.24, 0.19, 0.22, 0.20, 0.18, 0.21, 0.19, 0.17],
  [0.19, 0.16, 0.20, 0.15, 0.18, 0.14, 0.17, 0.15, 0.13, 0.16, 0.12, 0.15, 0.13, 0.11, 0.14, 0.12, 0.10, 0.13, 0.11, 0.09, 0.12, 0.10, 0.08, 0.11],
  [0.10, 0.08, 0.11, 0.07, 0.09, 0.06, 0.08, 0.10, 0.07, 0.05, 0.08, 0.06, 0.09, 0.05, 0.07, 0.04, 0.06, 0.08, 0.05, 0.03, 0.06, 0.04, 0.07, 0.05],
  [0.05, 0.03, 0.06, 0.02, 0.04, 0.05, 0.01, 0.03, 0.04, 0.02, 0.05, 0.01, 0.03, 0.02, 0.04, 0.00, 0.02, 0.03, 0.01, 0.02, 0.00, 0.03, 0.01, 0.02],
  [0.01, 0.00, 0.02, 0.00, 0.01, 0.00, 0.02, 0.00, 0.01, 0.00, 0.00, 0.01, 0.00, 0.02, 0.00, 0.00, 0.01, 0.00, 0.00, 0.01, 0.00, 0.00, 0.01, 0.00],
  [0.00, 0.00, 0.01, 0.00, 0.00, 0.00, 0.01, 0.00, 0.00, 0.02, 0.00, 0.01, 0.00, 0.02, 0.01, 0.03, 0.01, 0.02, 0.04, 0.02, 0.03, 0.05, 0.03, 0.04],
  [0.04, 0.05, 0.03, 0.06, 0.04, 0.07, 0.05, 0.06, 0.08, 0.05, 0.07, 0.06, 0.08, 0.07, 0.09, 0.06, 0.08, 0.10, 0.07, 0.09, 0.11, 0.08, 0.10, 0.12],
  [0.12, 0.15, 0.11, 0.16, 0.14, 0.18, 0.16, 0.20, 0.18, 0.22, 0.20, 0.25, 0.22, 0.27, 0.24, 0.29, 0.26, 0.31, 0.28, 0.33, 0.30, 0.35, 0.31, 0.34],
  [0.31, 0.27, 0.33, 0.28, 0.30, 0.26, 0.32, 0.29, 0.34, 0.30, 0.27, 0.31, 0.28, 0.25, 0.30, 0.27, 0.24, 0.28, 0.26, 0.30, 0.25, 0.29, 0.27, 0.31],
  [0.29, 0.26, 0.31, 0.27, 0.30, 0.28, 0.32, 0.29, 0.27, 0.31, 0.28, 0.30, 0.33, 0.29, 0.32, 0.30, 0.34, 0.31, 0.35, 0.33, 0.37, 0.34, 0.38, 0.36],
  [0.40, 0.37, 0.42, 0.38, 0.35, 0.39, 0.36, 0.33, 0.37, 0.34, 0.38, 0.35, 0.32, 0.36, 0.33, 0.30, 0.34, 0.31, 0.35, 0.32, 0.29, 0.33, 0.30, 0.31],
  [0.30, 0.28, 0.31, 0.26, 0.29, 0.27, 0.24, 0.28, 0.25, 0.22, 0.26, 0.23, 0.21, 0.24, 0.22, 0.20, 0.23, 0.21, 0.19, 0.22, 0.20, 0.18, 0.21, 0.19],
  [0.17, 0.15, 0.18, 0.14, 0.16, 0.13, 0.15, 0.12, 0.14, 0.13, 0.11, 0.13, 0.12, 0.10, 0.12, 0.11, 0.09, 0.11, 0.10, 0.08, 0.10, 0.09, 0.07, 0.09],
  [0.08, 0.07, 0.09, 0.06, 0.08, 0.05, 0.07, 0.06, 0.08, 0.05, 0.06, 0.04, 0.06, 0.05, 0.03, 0.05, 0.04, 0.06, 0.03, 0.04, 0.02, 0.04, 0.03, 0.02],
  [0.03, 0.02, 0.04, 0.01, 0.03, 0.02, 0.00, 0.03, 0.02, 0.01, 0.03, 0.00, 0.02, 0.01, 0.03, 0.00, 0.02, 0.01, 0.00, 0.02, 0.01, 0.00, 0.01, 0.00],
  [0.00, 0.01, 0.00, 0.02, 0.00, 0.00, 0.01, 0.00, 0.00, 0.01, 0.00, 0.00, 0.00, 0.01, 0.00, 0.00, 0.00, 0.01, 0.00, 0.00, 0.00, 0.00, 0.01, 0.00],
  [0.00, 0.00, 0.01, 0.00, 0.00, 0.01, 0.00, 0.00, 0.02, 0.00, 0.01, 0.00, 0.02, 0.01, 0.03, 0.02, 0.04, 0.03, 0.05, 0.04, 0.03, 0.06, 0.04, 0.05],
  [0.04, 0.06, 0.03, 0.07, 0.05, 0.08, 0.06, 0.05, 0.08, 0.07, 0.09, 0.07, 0.10, 0.09, 0.12, 0.10, 0.13, 0.12, 0.15, 0.13, 0.17, 0.15, 0.19, 0.17],
  [0.20, 0.24, 0.22, 0.26, 0.24, 0.28, 0.26, 0.30, 0.27, 0.29, 0.32, 0.28, 0.31, 0.34, 0.30, 0.33, 0.36, 0.32, 0.35, 0.38, 0.34, 0.37, 0.40, 0.36],
  [0.36, 0.40, 0.34, 0.41, 0.38, 0.42],
];

// smoothed curves [year, value]
const dnuLine = [
  [2001.52, 0.58], [2001.75, 0.62], [2002.04, 0.69], [2002.3, 0.60], [2002.56, 0.56], [2002.93, 0.53], [2003.2, 0.44],
  [2003.5, 0.38], [2003.83, 0.35], [2004.1, 0.32], [2004.35, 0.29], [2004.6, 0.30], [2004.8, 0.32], [2005.0, 0.30],
  [2005.24, 0.29], [2005.54, 0.28], [2005.8, 0.27], [2006.06, 0.25], [2006.43, 0.22], [2006.8, 0.24], [2006.95, 0.23],
  [2007.32, 0.20], [2007.77, 0.165], [2008.0, 0.17], [2008.29, 0.185], [2008.58, 0.19], [2009.03, 0.20], [2009.48, 0.195],
  [2009.77, 0.20], [2010.0, 0.21], [2010.3, 0.23], [2010.59, 0.225], [2010.8, 0.26], [2011.04, 0.30], [2011.26, 0.32],
  [2011.5, 0.38], [2011.93, 0.43], [2012.15, 0.41], [2012.3, 0.39], [2012.5, 0.41], [2012.74, 0.425], [2013.12, 0.418],
  [2013.3, 0.415], [2013.56, 0.426], [2013.8, 0.47], [2014.01, 0.51], [2014.2, 0.49], [2014.38, 0.477], [2014.6, 0.50],
  [2014.8, 0.54], [2014.94, 0.555], [2015.2, 0.50], [2015.57, 0.46], [2015.8, 0.42], [2016.09, 0.36], [2016.3, 0.32],
  [2016.53, 0.30], [2016.88, 0.277], [2017.1, 0.25], [2017.28, 0.23], [2017.5, 0.235], [2017.77, 0.237], [2018.1, 0.206],
  [2018.4, 0.19], [2018.59, 0.185], [2018.92, 0.165], [2019.2, 0.17], [2019.4, 0.175], [2019.73, 0.20], [2020.0, 0.195],
  [2020.25, 0.20], [2020.62, 0.206], [2020.85, 0.22], [2021.07, 0.25], [2021.3, 0.27], [2021.52, 0.29], [2021.75, 0.32],
  [2021.96, 0.35], [2022.2, 0.41], [2022.41, 0.47], [2022.6, 0.52], [2022.73, 0.545], [2022.9, 0.57], [2023.0, 0.586],
  [2023.1, 0.63], [2023.2, 0.69],
];

const mmaiLine = [
  [2001.52, 0.504], [2001.74, 0.55], [2002.04, 0.625], [2002.26, 0.59], [2002.56, 0.52], [2002.93, 0.436], [2003.23, 0.354],
  [2003.5, 0.323], [2003.83, 0.313], [2004.12, 0.27], [2004.4, 0.247], [2004.64, 0.25], [2004.87, 0.23], [2005.24, 0.214],
  [2005.54, 0.19], [2006.06, 0.144], [2006.5, 0.128], [2006.95, 0.097], [2007.32, 0.076], [2007.7, 0.035], [2008.14, 0.029],
  [2008.58, 0.025], [2009.03, 0.029], [2009.48, 0.029], [2009.77, 0.045], [2010.22, 0.086], [2010.67, 0.097], [2011.04, 0.18],
  [2011.26, 0.21], [2011.56, 0.276], [2011.93, 0.348], [2012.3, 0.317], [2012.6, 0.337], [2012.82, 0.307], [2013.12, 0.311],
  [2013.56, 0.344], [2014.01, 0.44], [2014.23, 0.42], [2014.4, 0.405], [2014.75, 0.43], [2014.97, 0.40], [2015.2, 0.358],
  [2015.57, 0.286], [2016.09, 0.204], [2016.53, 0.132], [2016.9, 0.105], [2017.35, 0.09], [2017.8, 0.08], [2018.1, 0.056],
  [2018.54, 0.043], [2018.99, 0.029], [2019.43, 0.033], [2019.95, 0.019], [2020.33, 0.023], [2020.7, 0.06], [2021.07, 0.07],
  [2021.37, 0.09], [2021.67, 0.11], [2021.93, 0.208], [2022.26, 0.29], [2022.56, 0.30], [2022.74, 0.317], [2022.93, 0.337],
  [2023.16, 0.354],
];

const f107Line = [
  [2001.52, 0.566], [2001.67, 0.61], [2001.97, 0.623], [2002.04, 0.665], [2002.19, 0.617], [2002.41, 0.593], [2002.64, 0.53],
  [2002.86, 0.48], [2003.08, 0.387], [2003.38, 0.305], [2003.6, 0.32], [2003.83, 0.284], [2004.12, 0.216], [2004.35, 0.212],
  [2004.72, 0.206], [2005.01, 0.165], [2005.46, 0.14], [2005.91, 0.099], [2006.35, 0.088], [2006.8, 0.078], [2007.25, 0.058],
  [2007.84, 0.033], [2008.43, 0.027], [2008.96, 0.016], [2009.48, 0.037], [2009.92, 0.062], [2010.37, 0.078], [2010.74, 0.082],
  [2011.04, 0.12], [2011.26, 0.165], [2011.56, 0.232], [2011.86, 0.31], [2012.16, 0.284], [2012.38, 0.278], [2012.6, 0.294],
  [2012.9, 0.243], [2013.2, 0.253], [2013.49, 0.257], [2013.71, 0.294], [2014.01, 0.40], [2014.16, 0.377], [2014.45, 0.346],
  [2014.75, 0.387], [2014.97, 0.372], [2015.27, 0.284], [2015.57, 0.237], [2015.94, 0.191], [2016.39, 0.13], [2016.83, 0.088],
  [2017.13, 0.058], [2017.43, 0.078], [2017.72, 0.064], [2018.02, 0.033], [2018.54, 0.037], [2018.99, 0.027], [2019.58, 0.027],
  [2019.95, 0.023], [2020.33, 0.031], [2020.62, 0.051], [2021.22, 0.068], [2021.67, 0.109], [2021.96, 0.15], [2022.26, 0.294],
  [2022.49, 0.315], [2022.63, 0.315], [2022.86, 0.387], [2023.16, 0.449],
];

const tsnLine = [
  [2001.52, 0.57], [2001.67, 0.576], [2001.89, 0.57], [2002.04, 0.597], [2002.12, 0.57], [2002.41, 0.564], [2002.64, 0.539],
  [2002.86, 0.508], [2003.08, 0.416], [2003.38, 0.364], [2003.68, 0.323], [2003.97, 0.292], [2004.27, 0.251], [2004.64, 0.23],
  [2004.94, 0.20], [2005.31, 0.169], [2005.68, 0.138], [2005.98, 0.107], [2006.35, 0.086], [2006.8, 0.066], [2007.25, 0.049],
  [2007.69, 0.031], [2008.29, 0.014], [2008.96, 0.004], [2009.48, 0.008], [2009.92, 0.045], [2010.37, 0.07], [2010.81, 0.097],
  [2011.26, 0.19], [2011.56, 0.27], [2011.86, 0.333], [2012.23, 0.292], [2012.53, 0.302], [2012.9, 0.255], [2013.27, 0.292],
  [2013.64, 0.302], [2014.01, 0.405], [2014.38, 0.358], [2014.83, 0.323], [2015.12, 0.292], [2015.42, 0.23], [2015.87, 0.20],
  [2016.31, 0.152], [2016.76, 0.107], [2017.2, 0.076], [2017.65, 0.056], [2018.1, 0.035], [2018.69, 0.025], [2019.29, 0.014],
  [2019.95, 0.004], [2020.47, 0.014], [2020.92, 0.045], [2021.37, 0.066], [2021.67, 0.107], [2021.96, 0.179], [2022.26, 0.251],
  [2022.56, 0.292], [2022.86, 0.344], [2023.16, 0.385],
];

// error bars [year, value, error]
const dnuErr = [
  [2001.52, 0.58, 0.02], [2002.56, 0.56, 0.015], [2003.5, 0.38, 0.015], [2004.35, 0.29, 0.012], [2005.24, 0.29, 0.015],
  [2006.06, 0.25, 0.015], [2006.95, 0.23, 0.015], [2007.77, 0.165, 0.012], [2008.58, 0.19, 0.012], [2009.48, 0.195, 0.012],
  [2010.3, 0.23, 0.015], [2011.19, 0.31, 0.015], [2011.93, 0.43, 0.015], [2012.74, 0.425, 0.015], [2013.56, 0.426, 0.015],
  [2014.38, 0.477, 0.018], [2015.2, 0.50, 0.018], [2016.09, 0.36, 0.015], [2016.88, 0.277, 0.015], [2017.77, 0.237, 0.015],
  [2018.59, 0.185, 0.012], [2019.4, 0.175, 0.012], [2020.25, 0.20, 0.012], [2021.07, 0.25, 0.015], [2021.96, 0.35, 0.015],
  [2022.73, 0.545, 0.018],
];

const mmaiErr = [
  [2001.52, 0.504, 0.015], [2002.56, 0.52, 0.04], [2003.5, 0.323, 0.02], [2004.4, 0.247, 0.03], [2005.24, 0.214, 0.015],
  [2006.06, 0.144, 0.005], [2006.95, 0.097, 0.005], [2007.77, 0.035, 0.004], [2008.58, 0.025, 0.004], [2009.48, 0.029, 0.008],
  [2010.3, 0.086, 0.006], [2011.04, 0.18, 0.025], [2011.93, 0.348, 0.04], [2012.82, 0.307, 0.05], [2013.56, 0.344, 0.035],
  [2014.4, 0.405, 0.06], [2015.2, 0.358, 0.025], [2016.09, 0.204, 0.015], [2016.9, 0.105, 0.012], [2017.77, 0.08, 0.005],
  [2018.59, 0.043, 0.005], [2019.4, 0.033, 0.004], [2020.25, 0.023, 0.004], [2021.07, 0.07, 0.005], [2021.93, 0.208, 0.03],
  [2022.74, 0.317, 0.02],
];

const FONT = "'DejaVu Serif', serif";
const AXIS = '#2b2b2b';
const LEFT = 100;
const RIGHT = 638;
const PLOT_H = 178;
const MT = 4;

const toCloud = (rows: number[][]) => {
  const pts: { x: number; y: number }[] = [];
  rows.forEach((row, r) => {
    const y0 = Math.max(cloudFirstYear + r, cloudStart);
    const y1 = Math.min(cloudFirstYear + r + 1, cloudEnd);
    row.forEach((v, i) => pts.push({ x: y0 + ((i + 0.5) * (y1 - y0)) / row.length, y: v }));
  });
  return pts;
};
const toLine = (rows: number[][]) => rows.map(([x, y]) => ({ x, y }));
const toErr = (rows: number[][]) => rows.map(([x, y, e]) => ({ x, y, e }));

const isMajorY = (v: number) => Math.abs(v * 5 - Math.round(v * 5)) < 1e-6;

interface PanelProps {
  top: number;
  cloud: number[][];
  core: number[][];
  line: number[][];
  errors?: number[][];
  pointColor: string;
  lineColor: string;
  lineWidth: number;
  showYears?: boolean;
}

const Panel: React.FC<PanelProps> = ({ top, cloud, core, line, errors, pointColor, lineColor, lineWidth, showYears }) => {
  const mb = showYears ? 40 : 4;
  const bottom = MT + PLOT_H;

  const xTickBottom = (p: any) => {
    const yr = Math.round(p.payload.value);
    const major = (yr - 2001) % 3 === 0;
    return (
      <g>
        <line x1={p.x} x2={p.x} y1={bottom} y2={bottom - (major ? 8 : 4)} stroke={AXIS} strokeWidth={1.2} />
        {showYears && major && (
          <text x={p.x} y={bottom + 24} textAnchor="middle" fontFamily={FONT} fontWeight="bold" fontSize={15} fill="#000">
            {yr}
          </text>
        )}
      </g>
    );
  };
  const xTickTop = (p: any) => {
    const yr = Math.round(p.payload.value);
    const major = (yr - 2001) % 3 === 0;
    return <line x1={p.x} x2={p.x} y1={MT} y2={MT + (major ? 8 : 4)} stroke={AXIS} strokeWidth={1.2} />;
  };
  const yTickLeft = (p: any) => {
    const v = p.payload.value;
    const major = isMajorY(v);
    return (
      <g>
        <line x1={LEFT} x2={LEFT + (major ? 10 : 5)} y1={p.y} y2={p.y} stroke={AXIS} strokeWidth={1.2} />
        {major && (
          <text x={LEFT - 7} y={p.y + (v > 0.99 ? 10 : 5)} textAnchor="end" fontFamily={FONT} fontWeight="bold" fontSize={15} fill="#000">
            {v.toFixed(1)}
          </text>
        )}
      </g>
    );
  };
  const yTickRight = (p: any) => {
    const major = isMajorY(p.payload.value);
    return <line x1={RIGHT} x2={RIGHT - (major ? 10 : 5)} y1={p.y} y2={p.y} stroke={AXIS} strokeWidth={1.2} />;
  };

  const ring = (p: any) => (
    <circle cx={p.cx} cy={p.cy} r={2.2} fill="none" stroke={pointColor} strokeWidth={0.95} />
  );
  const nothing = () => <g />;
  const points = [...toCloud(cloud), ...toCloud(core)];

  return (
    <div style={{ position: 'absolute', left: 0, top: top - MT }}>
      <ComposedChart width={664} height={PLOT_H + MT + mb}
        margin={{ top: MT - 1, right: 664 - RIGHT - 1, bottom: mb - 1, left: LEFT - 1 }}>
        <XAxis xAxisId="b" dataKey="x" type="number" domain={[2001, 2025]} ticks={yearTicks} interval={0}
          orientation="bottom" height={1} allowDataOverflow axisLine={{ stroke: AXIS, strokeWidth: 1.6 }}
          tickLine={false} tick={xTickBottom} />
        <XAxis xAxisId="t" dataKey="x" type="number" domain={[2001, 2025]} ticks={yearTicks} interval={0}
          orientation="top" height={1} allowDataOverflow axisLine={{ stroke: AXIS, strokeWidth: 1.6 }}
          tickLine={false} tick={xTickTop} />
        <YAxis yAxisId="l" dataKey="y" type="number" domain={[-0.1, 1.0]} ticks={valueTicks} interval={0}
          orientation="left" width={1} allowDataOverflow axisLine={{ stroke: AXIS, strokeWidth: 1.6 }}
          tickLine={false} tick={yTickLeft} />
        <YAxis yAxisId="r" dataKey="y" type="number" domain={[-0.1, 1.0]} ticks={valueTicks} interval={0}
          orientation="right" width={1} allowDataOverflow axisLine={{ stroke: AXIS, strokeWidth: 1.6 }}
          tickLine={false} tick={yTickRight} />
        {minima.map((m) => (
          <ReferenceLine key={m} xAxisId="b" yAxisId="l" x={m} stroke="#6e6e6e" strokeWidth={1} strokeDasharray="9 6" />
        ))}
        <Scatter xAxisId="b" yAxisId="l" data={points} shape={ring} isAnimationActive={false} />
        <Line xAxisId="b" yAxisId="l" data={toLine(line)} dataKey="y" type="linear" stroke={lineColor}
          strokeWidth={lineWidth} dot={false} activeDot={false} isAnimationActive={false} />
        {errors && (
          <Scatter xAxisId="b" yAxisId="l" data={toErr(errors)} shape={nothing} isAnimationActive={false}>
            <ErrorBar dataKey="e" direction="y" width={7} stroke={lineColor} strokeWidth={1.3} />
          </Scatter>
        )}
      </ComposedChart>
    </div>
  );
};

const titleStyle = (cy: number): React.CSSProperties => ({
  position: 'absolute',
  left: 46 - 60,
  top: cy - 12,
  width: 120,
  height: 24,
  lineHeight: '24px',
  textAlign: 'center',
  transform: 'rotate(-90deg)',
  fontFamily: FONT,
  fontWeight: 'bold',
  fontSize: 15,
  color: '#000',
});

export default function App() {
  return (
    <div style={{ position: 'absolute', left: 0, top: 0, width: 664, height: 854, background: '#fff', overflow: 'hidden' }}>
      <Panel top={18} cloud={dnuCloud} core={dnuCore} line={dnuLine} errors={dnuErr} pointColor="#848484" lineColor="#000000" lineWidth={1.4} />
      <Panel top={206} cloud={mmaiCloud} core={mmaiCore} line={mmaiLine} errors={mmaiErr} pointColor="#d99ae2" lineColor="#8000ff" lineWidth={1.4} />
      <Panel top={394} cloud={f107Cloud} core={f107Core} line={f107Line} pointColor="#3399ff" lineColor="#0000ff" lineWidth={3} />
      <Panel top={582} cloud={tsnCloud} core={tsnCore} line={tsnLine} pointColor="#ff6347" lineColor="#ff0000" lineWidth={2} showYears />

      <div style={{ ...titleStyle(107), fontWeight: 'normal', fontStyle: 'italic', fontSize: 17 }}>δν</div>
      <div style={titleStyle(295)}>MMAI</div>
      <div style={titleStyle(483)}>
        F<sub style={{ fontSize: 10 }}>10.7</sub>
      </div>
      <div style={titleStyle(671)}>TSN</div>
      <div style={{ position: 'absolute', left: 319, top: 792, width: 100, textAlign: 'center', fontFamily: FONT, fontWeight: 'bold', fontSize: 16, color: '#000' }}>
        Year
      </div>
    </div>
  );
}
